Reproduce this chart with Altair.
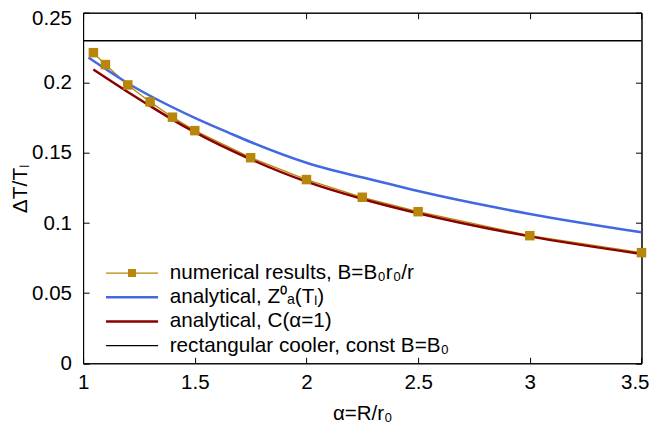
import altair as alt
import pandas as pd

FONT = "Liberation Sans"

# ---- data ----
num_x = [1.046, 1.1, 1.2, 1.3, 1.4, 1.5, 1.75, 2.0, 2.25, 2.5, 3.0, 3.5]
num_y = [0.2215, 0.2130, 0.1985, 0.1864, 0.1755, 0.1659, 0.1466, 0.1310, 0.1184, 0.1081, 0.0910, 0.0789]

blue_x = [1.024, 1.2, 1.5, 1.658, 1.75, 2.0, 2.33, 2.5, 3.0, 3.5]
blue_y = [0.2180, 0.1997, 0.1750, 0.1640, 0.1578, 0.1430, 0.1295, 0.1228, 0.1065, 0.0934]

red_x = [1.046, 1.2, 1.3, 1.4, 1.5, 1.75, 2.0, 2.25, 2.5, 3.0, 3.5]
red_y = [0.2095, 0.1935, 0.1835, 0.1738, 0.1648, 0.1455, 0.1295, 0.1172, 0.1070, 0.0905, 0.0780]

black_x = [1.0, 3.5]
black_y = [0.23, 0.23]

labels = [
    "numerical results, B=B₀r₀/r",
    "analytical, Z⁰ₐ(Tₗ)",
    "analytical, C(α=1)",
    "rectangular cooler, const B=B₀",
]
colors = ["#b8860b", "#4169e1", "#8b0000", "#000000"]
# legend samples: long line (thin / thick) plus square for the numerical series
shapes = [
    "M-2.6,-0.06H2.6V0.06H-2.6ZM-0.4,-0.4H0.4V0.4H-0.4Z",
    "M-2.6,-0.125H2.6V0.125H-2.6Z",
    "M-2.6,-0.125H2.6V0.125H-2.6Z",
    "M-2.6,-0.07H2.6V0.07H-2.6Z",
]

x_ticks = [1, 1.5, 2, 2.5, 3, 3.5]
y_ticks = [0, 0.05, 0.1, 0.15, 0.2, 0.25]

df_num = pd.DataFrame({"x": num_x, "y": num_y})
df_blue = pd.DataFrame({"x": blue_x, "y": blue_y})
df_red = pd.DataFrame({"x": red_x, "y": red_y})
df_black = pd.DataFrame({"x": black_x, "y": black_y})
df_leg = pd.DataFrame({"s": labels, "x": [2.0] * 4, "y": [-1.0] * 4})

xs = alt.Scale(domain=[1, 3.5], nice=False, zero=False)
ys = alt.Scale(domain=[0, 0.25], nice=False, zero=False)
TICK = {"expr": "-6"}

common = dict(grid=False, domainColor="#000000", domainWidth=1, tickColor="#000000",
              tickWidth=1, labelColor="#000000", titleColor="#000000",
              labelFont=FONT, titleFont=FONT, labelFontSize=20.5,
              titleFontWeight="normal", tickSize=TICK)

x_main = alt.Axis(title="α=R/r₀", values=x_ticks, format="~g",
                  labelPadding=15.2, labelFlush=False, labelOverlap=False,
                  labelAlign={"condition": {"test": "datum.value == 3.5", "value": "right"},
                              "value": "center"},
                  labelOffset={"condition": {"test": "datum.value == 3.5", "value": 7.5},
                               "value": 0},
                  titlePadding=11, titleFontSize=20.5, **common)
y_main = alt.Axis(title="ΔT/Tₗ", values=y_ticks, format="~g",
                  labelPadding=17.6, labelFlush=False, labelOverlap=False,
                  labelOffset={"condition": {"test": "datum.value == 0.25", "value": 5.5},
                               "value": 0},
                  titlePadding=1, titleFontSize=21, **common)
x_top = alt.Axis(orient="top", values=x_ticks, labels=False, title=None, **common)
y_right = alt.Axis(orient="right", values=y_ticks, labels=False, title=None, **common)

black = alt.Chart(df_black).mark_line(color="#000000", strokeWidth=1.5).encode(
    x=alt.X("x:Q", scale=xs, axis=x_main),
    y=alt.Y("y:Q", scale=ys, axis=y_main),
)
num_line = alt.Chart(df_num).mark_line(color="#b8860b", strokeWidth=1.3).encode(
    x=alt.X("x:Q", scale=xs, axis=x_top),
    y=alt.Y("y:Q", scale=ys, axis=y_right),
)
blue = alt.Chart(df_blue).mark_line(color="#4169e1", strokeWidth=2.5, interpolate="monotone").encode(
    x=alt.X("x:Q", scale=xs, axis=None),
    y=alt.Y("y:Q", scale=ys, axis=None),
)
red = alt.Chart(df_red).mark_line(color="#8b0000", strokeWidth=2.5, interpolate="monotone").encode(
    x=alt.X("x:Q", scale=xs, axis=None),
    y=alt.Y("y:Q", scale=ys, axis=None),
)
squares = alt.Chart(df_num).mark_square(color="#b8860b", size=90, opacity=1, filled=True).encode(
    x=alt.X("x:Q", scale=xs, axis=None),
    y=alt.Y("y:Q", scale=ys, axis=None),
)

legend = alt.Legend(orient="none", legendX=38.6, legendY=250, symbolSize=400,
                    labelOffset=27.3, labelFontSize=20.7, labelFont=FONT, labelColor="#000000",
                    rowPadding=2.2, padding=0, symbolStrokeWidth=0, labelLimit=0)
leg_layer = alt.Chart(df_leg).mark_point(filled=True, size=400, opacity=1, clip=True).encode(
    x=alt.X("x:Q", scale=xs, axis=None),
    y=alt.Y("y:Q", scale=ys, axis=None),
    fill=alt.Fill("s:N", scale=alt.Scale(domain=labels, range=colors), legend=legend, title=None),
    shape=alt.Shape("s:N", scale=alt.Scale(domain=labels, range=shapes), legend=legend, title=None),
)

chart = alt.layer(black, num_line, blue, red, squares, leg_layer).resolve_axis(
    x="independent", y="independent"
).properties(
    width=558.4,
    height=350.6,
    padding={"left": 75.1, "top": 4.7, "right": 7.4, "bottom": 66},
    autosize=alt.AutoSizeParams(type="none"),
).configure_view(stroke="#000000", strokeWidth=1)

chart.save("out.html", embed_options={"renderer": "svg", "actions": False})
